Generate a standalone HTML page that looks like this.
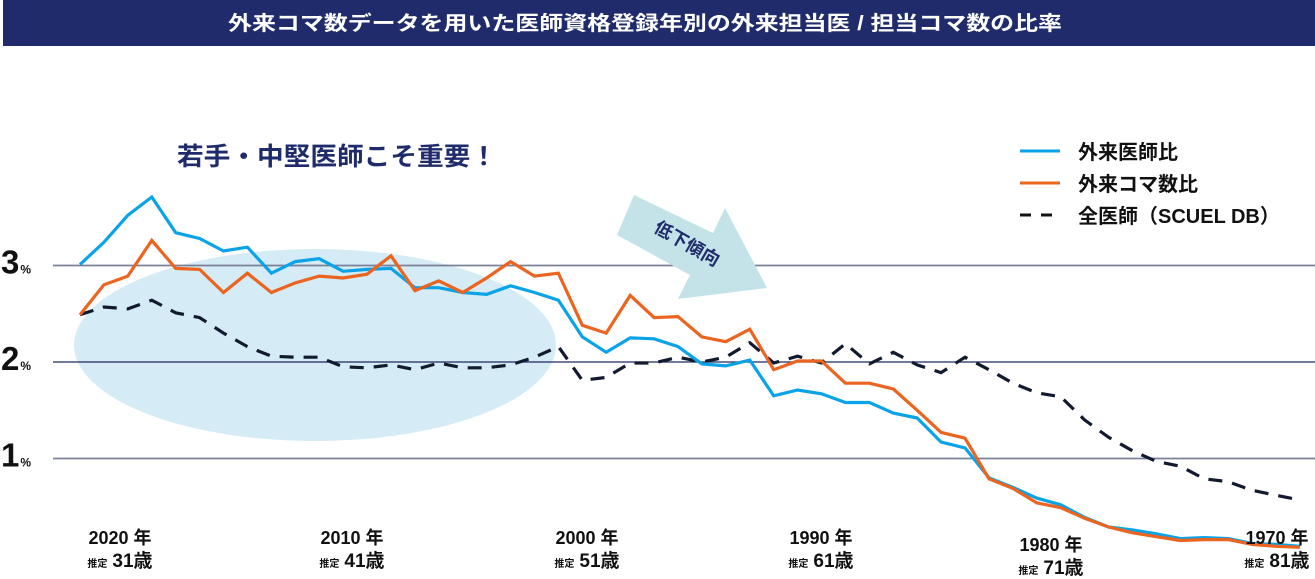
<!DOCTYPE html>
<html><head><meta charset="utf-8">
<style>
html,body{margin:0;padding:0;background:#fff;}
svg{display:block;font-family:"Liberation Sans","Noto Sans CJK JP",sans-serif;}
</style></head>
<body>
<svg id="chart" width="1315" height="579" viewBox="0 0 1315 579" xmlns="http://www.w3.org/2000/svg">
  <rect x="3" y="0" width="1312" height="46" fill="#1f2b6b"/>
  <text x="228" y="30" font-size="20" font-weight="bold" fill="#fff" textLength="834" lengthAdjust="spacingAndGlyphs">外来コマ数データを用いた医師資格登録年別の外来担当医 / 担当コマ数の比率</text>

  <ellipse cx="315" cy="345" rx="241" ry="96" fill="#d5ebf5"/>
  <text x="177" y="165" font-size="25" font-weight="bold" fill="#1f2b6b" textLength="320" lengthAdjust="spacingAndGlyphs">若手・中堅医師こそ重要！</text>

  <g id="grid"></g>
  <g id="ylabels"></g>

  <polygon points="634,195 713,233 725,208 767,288 678,299 690,275 617,235" fill="#c3e3e9"/>
  <text x="0" y="0" font-size="18" font-weight="bold" fill="#1f2b6b" text-anchor="middle" transform="translate(684,249) rotate(30)">低下傾向</text>

  <g id="series"></g>
  <g id="xlabels"></g>

  <g>
    <line x1="1020" y1="151" x2="1060" y2="151" stroke="#0aa3e8" stroke-width="3"/>
    <text x="1078" y="159" font-size="20" font-weight="bold" fill="#111">外来医師比</text>
    <line x1="1020" y1="183" x2="1060" y2="183" stroke="#eb6420" stroke-width="3"/>
    <text x="1078" y="191" font-size="20" font-weight="bold" fill="#111">外来コマ数比</text>
    <line x1="1020" y1="215" x2="1060" y2="215" stroke="#111" stroke-width="3" stroke-dasharray="11,10"/>
    <text x="1078" y="223" font-size="20" font-weight="bold" fill="#111">全医師（SCUEL DB）</text>
  </g>
</svg>
<script>
// years from 2022 down to 1971 (52 points)
const years = [2022,2021,2020,2019,2018,2017,2016,2015,2014,2013,2012,2011,2010,2009,2008,2007,2006,2005,2004,2003,2002,2001,2000,1999,1998,1997,1996,1995,1994,1993,1992,1991,1990,1989,1988,1987,1986,1985,1984,1983,1982,1981,1980,1979,1978,1977,1976,1975,1974,1973,1972,1971];
const doctorRatio = [3.01,3.24,3.52,3.71,3.34,3.28,3.15,3.19,2.92,3.04,3.07,2.94,2.96,2.97,2.77,2.77,2.72,2.70,2.79,2.72,2.64,2.26,2.10,2.25,2.24,2.16,1.98,1.96,2.02,1.65,1.71,1.67,1.58,1.58,1.47,1.42,1.17,1.11,0.80,0.70,0.59,0.52,0.39,0.29,0.26,0.22,0.17,0.18,0.17,0.12,0.11,0.09];
const slotRatio = [2.49,2.80,2.89,3.26,2.97,2.96,2.72,2.92,2.72,2.82,2.89,2.87,2.91,3.10,2.74,2.84,2.72,2.87,3.04,2.89,2.92,2.38,2.30,2.69,2.46,2.47,2.26,2.21,2.34,1.92,2.01,2.01,1.78,1.78,1.72,1.50,1.27,1.21,0.79,0.69,0.54,0.49,0.38,0.29,0.23,0.19,0.15,0.16,0.16,0.11,0.09,0.08];
const allDoctors = [2.49,2.57,2.55,2.64,2.51,2.46,2.30,2.16,2.06,2.05,2.05,1.95,1.94,1.97,1.92,1.99,1.94,1.94,1.97,2.05,2.16,1.81,1.84,1.99,1.99,2.05,2.00,2.05,2.20,1.99,2.06,1.99,2.19,1.98,2.10,1.97,1.89,2.05,1.92,1.78,1.68,1.64,1.40,1.22,1.08,0.97,0.92,0.79,0.76,0.67,0.62,0.57];
const yTicks = [3,2,1];
const xTickYears = [2020,2010,2000,1990,1980,1970];
const xTickAges = ["31","41","51","61","71","81"];

const NS = "http://www.w3.org/2000/svg";
function xOf(yr){ return 80 + (2022 - yr) * 23.92; }
function yOf(v){ return 362 - (v - 2) * 96.5; }

const grid = document.getElementById('grid');
const yl = document.getElementById('ylabels');
yTicks.forEach(t=>{
  const l = document.createElementNS(NS,'line');
  
  
  l.setAttribute('x1',53); l.setAttribute('x2',1315);
  l.setAttribute('y1',yOf(t)); l.setAttribute('y2',yOf(t));
  l.setAttribute('stroke', t===2 ? '#1f2b5f' : '#7a8096');
  l.setAttribute('stroke-width', t===2 ? 1.2 : 1.8);
  grid.appendChild(l);
  const tx = document.createElementNS(NS,'text');
  
  
  tx.setAttribute('x',1); tx.setAttribute('y',yOf(t)+8);
  tx.setAttribute('font-weight','bold'); tx.setAttribute('fill','#111');
  tx.innerHTML = '<tspan font-size="33">' + t + '</tspan><tspan font-size="12" dx="1">%</tspan>';
  yl.appendChild(tx);
});

const sg = document.getElementById('series');
function drawLine(vals, color, dash, name){
  const p = document.createElementNS(NS,'polyline');
  
  
  p.setAttribute('points', vals.map((v,i)=> xOf(years[i]).toFixed(1)+','+yOf(v).toFixed(1)).join(' '));
  p.setAttribute('fill','none');
  p.setAttribute('stroke',color);
  p.setAttribute('stroke-width', 3.2);
  p.setAttribute('stroke-linejoin','miter');
  if(dash) p.setAttribute('stroke-dasharray', dash);
  sg.appendChild(p);
}
drawLine(allDoctors, '#111a2e', '14,10', 'line-all-doctors');
drawLine(doctorRatio, '#0aa3e8', null, 'line-doctor-ratio');
drawLine(slotRatio, '#eb6420', null, 'line-slot-ratio');

const xl = document.getElementById('xlabels');
const centers = {2020:120,2010:352,2000:587,1990:821,1980:1051,1970:1277};
xTickYears.forEach((yr,i)=>{
  const cx = centers[yr] !== undefined ? centers[yr] : xOf(yr);
  const dy = yr===1980 ? 7 : 0;
  const t1 = document.createElementNS(NS,'text');
  
  
  t1.setAttribute('x',cx); t1.setAttribute('y',544+dy);
  t1.setAttribute('text-anchor','middle'); t1.setAttribute('font-size','18');
  t1.setAttribute('font-weight','bold'); t1.setAttribute('fill','#111');
  t1.textContent = yr + ' 年';
  xl.appendChild(t1);
  const t2 = document.createElementNS(NS,'text');
  
  
  t2.setAttribute('x',cx); t2.setAttribute('y',567+dy);
  t2.setAttribute('text-anchor','middle'); t2.setAttribute('font-weight','bold'); t2.setAttribute('fill','#111');
  t2.innerHTML = '<tspan font-size="10">推定</tspan><tspan font-size="19" dx="5">' + xTickAges[i] + '歳</tspan>';
  xl.appendChild(t2);
});
</script>
</body></html>
